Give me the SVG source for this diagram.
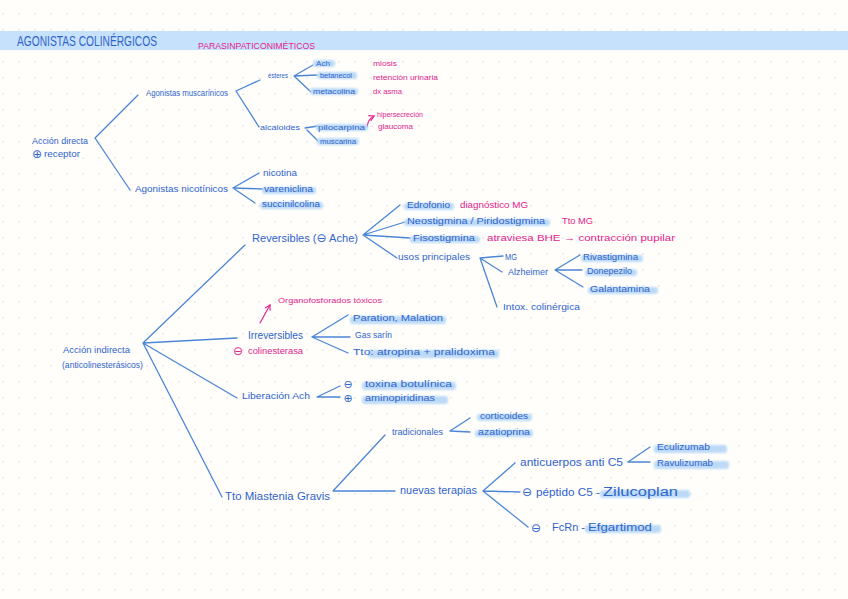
<svg xmlns="http://www.w3.org/2000/svg" width="848" height="599" viewBox="0 0 848 599">
<defs>
<pattern id="dots" width="16" height="16" patternUnits="userSpaceOnUse"><circle cx="3" cy="14" r="0.8" fill="#d9d9d9"/></pattern>
<filter id="soft" x="-10%" y="-60%" width="120%" height="220%"><feGaussianBlur stdDeviation="1"/></filter>
<marker id="pa" viewBox="0 0 10 10" refX="8" refY="5" markerWidth="6" markerHeight="6" orient="auto"><path d="M1,1 L8,5 L1,9" fill="none" stroke="#e3248c" stroke-width="1.6"/></marker>
<style>
.t{font-family:"Liberation Sans","DejaVu Sans",sans-serif;fill:#2f64cc}
.p{font-family:"Liberation Sans","DejaVu Sans",sans-serif;fill:#e3248c}
.s{font-family:"DejaVu Sans",sans-serif;text-anchor:middle}
.hl{fill:#bcdaf7;filter:url(#soft)}
.ln{stroke:#4b86d6;stroke-width:1.3;fill:none;stroke-linecap:round}
.pl{stroke:#e3248c;stroke-width:1.2;fill:none;stroke-linecap:round}
</style>
</defs>
<rect width="848" height="599" fill="#fffefb"/>
<rect width="848" height="599" fill="url(#dots)"/>
<rect x="0" y="31" width="848" height="19" fill="#c6e1fb"/>

<g id="header">
<text class="t" x="17" y="46" font-size="14" textLength="140" lengthAdjust="spacingAndGlyphs">AGONISTAS COLINÉRGICOS</text>
<text class="p" x="198" y="49" font-size="9.5" textLength="117" lengthAdjust="spacingAndGlyphs">PARASINPATICONIMÉTICOS</text>
</g>

<g id="connectors">
<path class="ln" d="M95,138 L138,95 M95,138 L130,190"/>
<path class="ln" d="M236,91 L260,80 M236,91 L259,127"/>
<path class="ln" d="M294,76 L313,65 M294,76 L317,75 M294,76 L311,92"/>
<path class="ln" d="M305,128 L318,126 M307,130 L318,141"/>
<path class="ln" d="M233,188 L259,173 M233,188 L263,189 M233,188 L255,203"/>
<path class="ln" d="M143,343 L245,245 M143,343 L237,338 M143,343 L237,398 M143,343 L222,497"/>
<path class="ln" d="M363,235 L400,205 M363,235 L405,222 M363,235 L410,238 M363,235 L397,258"/>
<path class="ln" d="M480,258 L503,256 M480,258 L502,272 M480,258 L497,307"/>
<path class="ln" d="M555,270 L580,255 M555,270 L582,270 M555,270 L583,287"/>
<path class="ln" d="M312,337 L348,315 M312,337 L350,337 M312,337 L348,353"/>
<path class="ln" d="M317,397 L340,386 M317,397 L340,397"/>
<path class="ln" d="M333,491 L385,435 M333,491 L395,491"/>
<path class="ln" d="M450,431 L470,418 M450,431 L470,432"/>
<path class="ln" d="M483,491 L515,463 M483,491 L520,492 M483,491 L528,527"/>
<path class="ln" d="M628,462 L650,447 M628,462 L650,462"/>
<path class="pl" d="M367,127 Q368,119 374,116" marker-end="url(#pa)"/>
<path class="pl" d="M260,323 L270,305" marker-end="url(#pa)"/>
</g>

<g id="accion-directa">
<text class="t" x="32" y="144" font-size="9" textLength="56" lengthAdjust="spacingAndGlyphs">Acción directa</text>
<text class="t s" x="37" y="158" font-size="12">⊕</text>
<text class="t" x="44" y="157" font-size="9" textLength="36" lengthAdjust="spacingAndGlyphs">receptor</text>
</g>

<g id="agonistas-muscarinicos">
<text class="t" x="146" y="96" font-size="9" textLength="82" lengthAdjust="spacingAndGlyphs">Agonistas muscarínicos</text>
</g>

<g id="esteres">
<text class="t" x="268" y="78" font-size="8" textLength="20" lengthAdjust="spacingAndGlyphs">ésteres</text>
<rect class="hl" x="313" y="60" width="22" height="7" rx="3"/>
<rect class="hl" x="317" y="72" width="40" height="7" rx="3"/>
<rect class="hl" x="310" y="88" width="48" height="7" rx="3"/>
<text class="t" x="316" y="66" font-size="8" textLength="14" lengthAdjust="spacingAndGlyphs">Ach</text>
<text class="t" x="320" y="78" font-size="8" textLength="32" lengthAdjust="spacingAndGlyphs">betanecol</text>
<text class="t" x="313" y="94" font-size="8" textLength="42" lengthAdjust="spacingAndGlyphs">metacolina</text>
<text class="p" x="373" y="66" font-size="7.5" textLength="24" lengthAdjust="spacingAndGlyphs">miosis</text>
<text class="p" x="373" y="80" font-size="7.5" textLength="65" lengthAdjust="spacingAndGlyphs">retención urinaria</text>
<text class="p" x="373" y="94" font-size="7.5" textLength="29" lengthAdjust="spacingAndGlyphs">dx asma</text>
</g>

<g id="alcaloides">
<text class="t" x="260" y="130" font-size="8" textLength="40" lengthAdjust="spacingAndGlyphs">alcaloides</text>
<rect class="hl" x="316" y="124" width="52" height="7" rx="3"/>
<rect class="hl" x="317" y="138" width="42" height="7" rx="3"/>
<text class="t" x="318" y="130" font-size="8" textLength="47" lengthAdjust="spacingAndGlyphs">pilocarpina</text>
<text class="t" x="320" y="144" font-size="8" textLength="36" lengthAdjust="spacingAndGlyphs">muscarina</text>
<text class="p" x="377" y="117" font-size="7.5" textLength="46" lengthAdjust="spacingAndGlyphs">hipersecreción</text>
<text class="p" x="378" y="129" font-size="7.5" textLength="35" lengthAdjust="spacingAndGlyphs">glaucoma</text>
</g>

<g id="agonistas-nicotinicos">
<text class="t" x="135" y="192" font-size="9.5" textLength="93" lengthAdjust="spacingAndGlyphs">Agonistas nicotínicos</text>
<rect class="hl" x="262" y="187" width="54" height="7" rx="3"/>
<rect class="hl" x="260" y="202" width="63" height="7" rx="3"/>
<text class="t" x="263" y="176" font-size="8.5" textLength="34" lengthAdjust="spacingAndGlyphs">nicotina</text>
<text class="t" x="264" y="192" font-size="8.5" textLength="49" lengthAdjust="spacingAndGlyphs">vareniclina</text>
<text class="t" x="262" y="207" font-size="8.5" textLength="58" lengthAdjust="spacingAndGlyphs">succinilcolina</text>
</g>

<g id="accion-indirecta">
<text class="t" x="63" y="353" font-size="9" textLength="67" lengthAdjust="spacingAndGlyphs">Acción indirecta</text>
<text class="t" x="62" y="368" font-size="9" textLength="81" lengthAdjust="spacingAndGlyphs">(anticolinesterásicos)</text>
</g>

<g id="reversibles">
<text class="t" x="252" y="242" font-size="11" textLength="106" lengthAdjust="spacingAndGlyphs">Reversibles (<tspan font-family="DejaVu Sans, sans-serif" font-size="12">⊖</tspan> Ache)</text>
<rect class="hl" x="404" y="203" width="50" height="7" rx="3"/>
<rect class="hl" x="404" y="219" width="146" height="7" rx="3"/>
<rect class="hl" x="410" y="236" width="70" height="7" rx="3"/>
<text class="t" x="407" y="208" font-size="9" textLength="43" lengthAdjust="spacingAndGlyphs">Edrofonio</text>
<text class="p" x="460" y="208" font-size="9" textLength="68" lengthAdjust="spacingAndGlyphs">diagnóstico MG</text>
<text class="t" x="407" y="224" font-size="9" textLength="138" lengthAdjust="spacingAndGlyphs">Neostigmina / Piridostigmina</text>
<text class="p" x="562" y="224" font-size="9" textLength="31" lengthAdjust="spacingAndGlyphs">Tto MG</text>
<text class="t" x="413" y="241" font-size="9" textLength="62" lengthAdjust="spacingAndGlyphs">Fisostigmina</text>
<text class="p" x="487" y="241" font-size="9" textLength="188" lengthAdjust="spacingAndGlyphs">atraviesa BHE → contracción pupilar</text>
</g>

<g id="usos-principales">
<text class="t" x="398" y="260" font-size="9" textLength="72" lengthAdjust="spacingAndGlyphs">usos principales</text>
<text class="t" x="505" y="260" font-size="8.5" textLength="12" lengthAdjust="spacingAndGlyphs">MG</text>
<text class="t" x="508" y="275" font-size="8.5" textLength="40" lengthAdjust="spacingAndGlyphs">Alzheimer</text>
<text class="t" x="503" y="310" font-size="9" textLength="77" lengthAdjust="spacingAndGlyphs">Intox. colinérgica</text>
<rect class="hl" x="581" y="255" width="62" height="7" rx="3"/>
<rect class="hl" x="585" y="269" width="52" height="7" rx="3"/>
<rect class="hl" x="588" y="287" width="70" height="7" rx="3"/>
<text class="t" x="583" y="260" font-size="8.5" textLength="55" lengthAdjust="spacingAndGlyphs">Rivastigmina</text>
<text class="t" x="587" y="274" font-size="8.5" textLength="45" lengthAdjust="spacingAndGlyphs">Donepezilo</text>
<text class="t" x="590" y="292" font-size="8.5" textLength="60" lengthAdjust="spacingAndGlyphs">Galantamina</text>
</g>

<g id="irreversibles">
<text class="p" x="278" y="303" font-size="8" textLength="104" lengthAdjust="spacingAndGlyphs">Organofosforados tóxicos</text>
<text class="t" x="248" y="339" font-size="10.5" textLength="55" lengthAdjust="spacingAndGlyphs">Irreversibles</text>
<text class="p s" x="238" y="355" font-size="12">⊖</text>
<text class="p" x="248" y="354" font-size="9" textLength="55" lengthAdjust="spacingAndGlyphs">colinesterasa</text>
<rect class="hl" x="350" y="316" width="96" height="8" rx="3"/>
<rect class="hl" x="368" y="350" width="131" height="8" rx="3"/>
<text class="t" x="353" y="321" font-size="9.5" textLength="90" lengthAdjust="spacingAndGlyphs">Paration, Malation</text>
<text class="t" x="355" y="338" font-size="9" textLength="37" lengthAdjust="spacingAndGlyphs">Gas sarín</text>
<text class="t" x="353" y="355" font-size="9.5" textLength="142" lengthAdjust="spacingAndGlyphs">Tto: atropina + pralidoxima</text>
</g>

<g id="liberacion-ach">
<text class="t" x="242" y="399" font-size="9.5" textLength="68" lengthAdjust="spacingAndGlyphs">Liberación Ach</text>
<rect class="hl" x="362" y="382" width="94" height="8" rx="3"/>
<rect class="hl" x="362" y="396" width="86" height="8" rx="3"/>
<text class="t s" x="348" y="388" font-size="11">⊖</text>
<text class="t" x="365" y="387" font-size="9.5" textLength="87" lengthAdjust="spacingAndGlyphs">toxina botulínica</text>
<text class="t s" x="348" y="402" font-size="11">⊕</text>
<text class="t" x="365" y="401" font-size="9.5" textLength="70" lengthAdjust="spacingAndGlyphs">aminopiridinas</text>
</g>

<g id="tto-miastenia">
<text class="t" x="225" y="500" font-size="10.5" textLength="105" lengthAdjust="spacingAndGlyphs">Tto Miastenia Gravis</text>
</g>

<g id="tradicionales">
<text class="t" x="392" y="435" font-size="9" textLength="51" lengthAdjust="spacingAndGlyphs">tradicionales</text>
<rect class="hl" x="477" y="414" width="55" height="7" rx="3"/>
<rect class="hl" x="475" y="430" width="58" height="7" rx="3"/>
<text class="t" x="480" y="419" font-size="9" textLength="48" lengthAdjust="spacingAndGlyphs">corticoides</text>
<text class="t" x="478" y="435" font-size="9" textLength="52" lengthAdjust="spacingAndGlyphs">azatioprina</text>
</g>

<g id="nuevas-terapias">
<text class="t" x="400" y="494" font-size="10" textLength="77" lengthAdjust="spacingAndGlyphs">nuevas terapias</text>
<text class="t" x="520" y="466" font-size="10" textLength="103" lengthAdjust="spacingAndGlyphs">anticuerpos anti C5</text>
<rect class="hl" x="654" y="445" width="73" height="8" rx="3"/>
<rect class="hl" x="654" y="461" width="75" height="8" rx="3"/>
<text class="t" x="657" y="450" font-size="9.5" textLength="53" lengthAdjust="spacingAndGlyphs">Eculizumab</text>
<text class="t" x="657" y="466" font-size="9.5" textLength="56" lengthAdjust="spacingAndGlyphs">Ravulizumab</text>
<rect class="hl" x="600" y="490" width="90" height="8" rx="3"/>
<text class="t s" x="527" y="496" font-size="12">⊖</text>
<text class="t" x="536" y="496" font-size="10.5" textLength="64" lengthAdjust="spacingAndGlyphs">péptido C5 -</text>
<text class="t" x="603" y="496" font-size="12" textLength="75" lengthAdjust="spacingAndGlyphs">Zilucoplan</text>
<rect class="hl" x="585" y="525" width="76" height="8" rx="3"/>
<text class="t s" x="536" y="532" font-size="12">⊖</text>
<text class="t" x="552" y="531" font-size="10" textLength="33" lengthAdjust="spacingAndGlyphs">FcRn -</text>
<text class="t" x="588" y="531" font-size="11" textLength="64" lengthAdjust="spacingAndGlyphs">Efgartimod</text>
</g>
</svg>
